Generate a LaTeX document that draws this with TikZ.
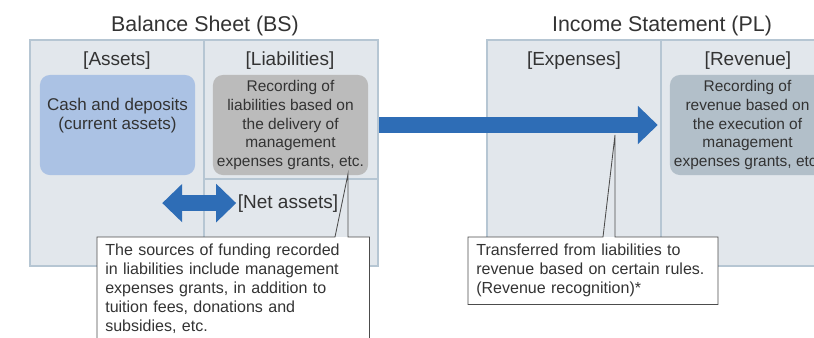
\documentclass[tikz,border=0pt]{standalone}
\usepackage{fontspec}
\setmainfont{Liberation Sans}
\usetikzlibrary{arrows.meta, positioning, calc}
\definecolor{panelfill}{HTML}{E2E7EC}
\definecolor{panelline}{HTML}{B6C6D3}
\definecolor{cashblue}{HTML}{ABC2E4}
\definecolor{liabgray}{HTML}{BBBBBB}
\definecolor{revgray}{HTML}{B2BFC9}
\definecolor{flowblue}{HTML}{2E6DB6}
\definecolor{inkgray}{HTML}{333333}

\begin{document}
\begin{tikzpicture}[x=0.025cm, y=-0.025cm,
  every node/.style={text=inkgray},
  panel/.style={draw=panelline, fill=panelfill, line width=1.6pt, minimum width=8.7cm, minimum height=5.65cm, inner sep=0pt},
  divider/.style={draw=panelline, line width=1.6pt},
  head/.style={anchor=base, font=\fontsize{15.2}{17}\selectfont},
  colhead/.style={anchor=base, inner sep=1pt, font=\fontsize{13.5}{15}\selectfont},
  item/.style={rounded corners=7pt, minimum width=3.875cm, minimum height=2.5cm, align=center, inner sep=2pt},
  note/.style={fill=white, anchor=north west, align=left, inner xsep=5.7pt, inner ysep=5pt, font=\fontsize{11.4}{13.5}\selectfont},
  noteline/.style={draw=black!70, line width=0.6pt},
  flow/.style={draw=flowblue, line width=0.4cm, -{Triangle[width=26.5pt, length=14.2pt]}}
]
  \useasboundingbox (0,0) rectangle (814,337);
  \clip (0,0) rectangle (814,337);

  \node[panel] (bsbox) at (204,153) {};
  \node[panel] (plbox) at (661,153) {};
  \coordinate (netline) at (300,179);
  \draw[divider] (bsbox.north) -- (bsbox.south);
  \draw[divider] (plbox.north) -- (plbox.south);
  \draw[divider] (bsbox.center |- netline) -- (bsbox.east |- netline);

  \node[head] (bstitle) at (205,31) {Balance Sheet (BS)};
  \node[head] (pltitle) at (662,31) {Income Statement (PL)};
  \node[colhead] (assetlbl) at (117,65) {[Assets]};
  \node[colhead] (liablbl) at (290,65) {[Liabilities]};
  \node[colhead] (explbl) at (574,65) {[Expenses]};
  \node[colhead] (revlbl) at (748,65) {[Revenue]};
  \node[colhead] (netlbl) at (288,208) {[Net assets]};

  \node[item, fill=cashblue, font=\fontsize{12.1}{13.5}\selectfont] (cashbox) at (117.5,125) {Cash and deposits\\(current assets)\\[3pt]};
  \node[item, fill=liabgray, font=\fontsize{11}{13.5}\selectfont] (liabbox) at (290.5,125) {Recording of\\liabilities based on\\the delivery of\\management\\expenses grants, etc.};
  \node[item, fill=revgray, font=\fontsize{11}{13.5}\selectfont] (revbox) at (747.5,125) {Recording of\\revenue based on\\the execution of\\management\\expenses grants, etc.};

  \draw[flow] (bsbox.east |- revbox) -- ([xshift=-8.5pt]revbox.west);
  \draw[flow, {Triangle[width=26.5pt, length=14.2pt]}-{Triangle[width=26.5pt, length=14.2pt]}] ([xshift=-52.6pt]netlbl.west) -- (netlbl.west);

  \node[note, text width=182pt] (srcnote) at (97,237) {The sources of funding recorded\\in liabilities include management\\expenses grants, in addition to\\tuition fees, donations and\\subsidies, etc.};
  \coordinate (liabtip) at (348,174);
  \coordinate (srcbase) at (335,237);
  \draw[noteline] (srcnote.north west) -- (srcbase) -- (liabtip) -- (srcnote.north west -| liabtip) -- (srcnote.north east) -- (srcnote.south east) -- (srcnote.south west) -- cycle;

  \node[note, text width=166pt] (recnote) at (468,237) {Transferred from liabilities to\\revenue based on certain rules.\\(Revenue recognition)*};
  \coordinate (flowtip) at (615,135);
  \coordinate (recbase) at (603,237);
  \draw[noteline] (recnote.north west) -- (recbase) -- (flowtip) -- (recnote.north west -| flowtip) -- (recnote.north east) -- (recnote.south east) -- (recnote.south west) -- cycle;
\end{tikzpicture}
\end{document}
